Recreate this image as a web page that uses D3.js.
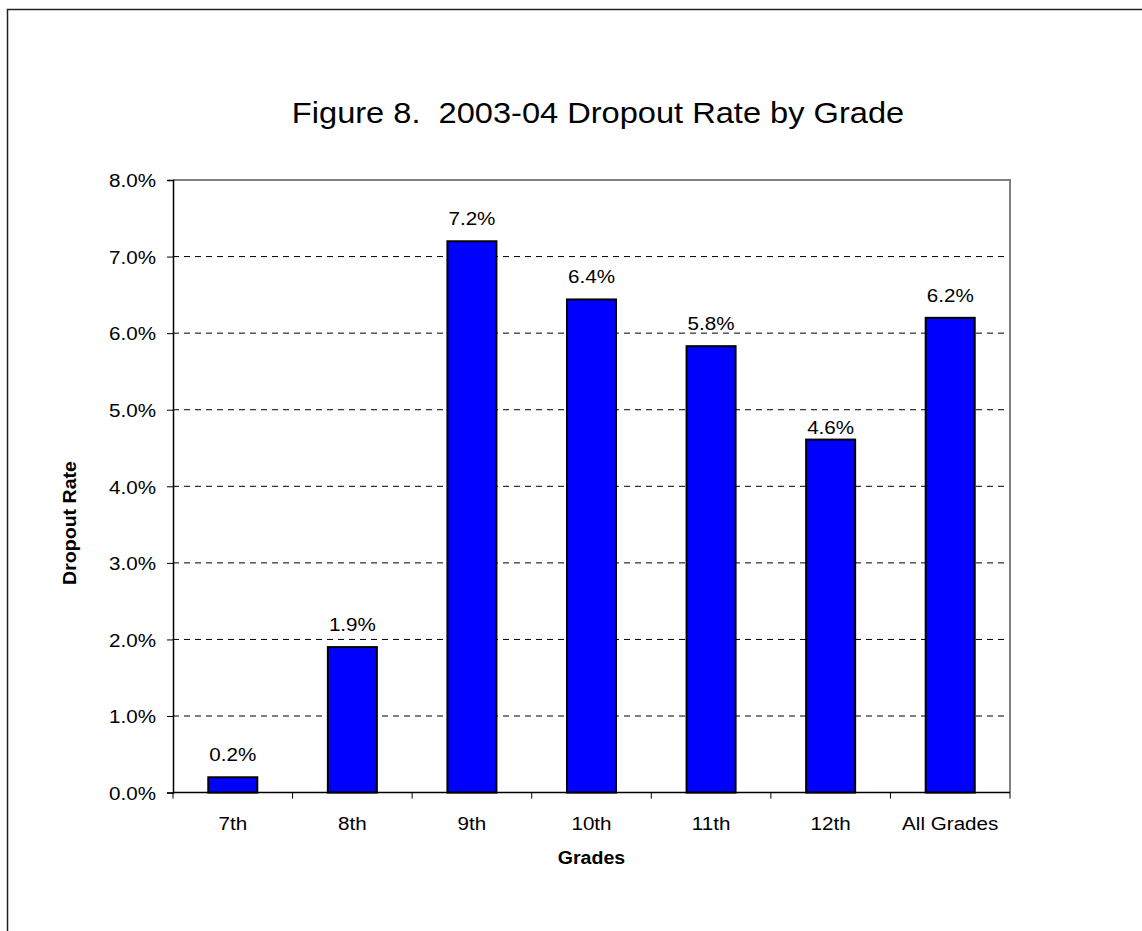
<!DOCTYPE html>
<html>
<head>
<meta charset="utf-8">
<script src="https://cdn.jsdelivr.net/npm/d3@7"></script>
<style>
  html, body { margin: 0; padding: 0; background: #fff; }
  svg { display: block; font-family: "Liberation Sans", Arial, sans-serif; }
  text { white-space: pre; fill: #000; }
</style>
</head>
<body>
<svg id="chart" width="1142" height="931"></svg>
<script>
// ---- data ----
const categories = ["7th", "8th", "9th", "10th", "11th", "12th", "All Grades"];
const dropoutRates = [0.0020, 0.0190, 0.0720, 0.0644, 0.0583, 0.0461, 0.0620];
const yTickValues = [0, 0.01, 0.02, 0.03, 0.04, 0.05, 0.06, 0.07, 0.08];
const titleText = "Figure 8.  2003-04 Dropout Rate by Grade";
const xAxisTitle = "Grades";
const yAxisTitle = "Dropout Rate";

// ---- layout ----
const svg = d3.select("#chart");
const plot = { left: 173, top: 180, right: 1010, bottom: 792.6 };
const SX = 1.085;   // horizontal text stretch for labels
const FS = 19;      // label font size

// outer frame (extends beyond the window on right/bottom)
svg.append("rect")
  .attr("x", 7.5).attr("y", 9.5)
  .attr("width", 1400).attr("height", 1200)
  .attr("fill", "none").attr("stroke", "#222").attr("stroke-width", 1.5);

const x = d3.scaleBand()
  .domain(categories)
  .range([plot.left, plot.right])
  .paddingInner(0.59).paddingOuter(0.295);
const xTicksScale = d3.scaleBand().domain(categories).range([plot.left, plot.right]).padding(0);
const y = d3.scaleLinear().domain([0, 0.08]).range([plot.bottom, plot.top]);

// gridlines (dashed)
svg.append("g").selectAll("line")
  .data(yTickValues.filter(v => v > 0 && v < 0.08))
  .join("line")
  .attr("x1", plot.left).attr("x2", plot.right)
  .attr("y1", d => y(d)).attr("y2", d => y(d))
  .attr("stroke", "#000").attr("stroke-width", 1)
  .attr("stroke-dasharray", "6,5");

// top and right plot border (gray)
svg.append("path")
  .attr("d", `M${plot.left},${y(0.08)}H${plot.right}V${plot.bottom}`)
  .attr("fill", "none").attr("stroke", "#808080").attr("stroke-width", 2);

// bars
svg.append("g").selectAll("rect")
  .data(categories.map((c, i) => ({ c, v: dropoutRates[i] })))
  .join("rect")
  .attr("x", d => x(d.c))
  .attr("y", d => y(d.v))
  .attr("width", x.bandwidth())
  .attr("height", d => y(0) - y(d.v))
  .attr("fill", "#0000ff")
  .attr("stroke", "#000").attr("stroke-width", 2);

// value labels
const fmt = d3.format(".1%");
const labelShift = { "12th": 10 };
svg.append("g").selectAll("text")
  .data(categories.map((c, i) => ({ c, v: dropoutRates[i] })))
  .join("text")
  .attr("transform", d => `translate(${x(d.c) + x.bandwidth() / 2},${y(d.v) - 16 + (labelShift[d.c] || 0)}) scale(${SX},1)`)
  .attr("text-anchor", "middle")
  .attr("font-size", FS)
  .text(d => fmt(d.v));

// y axis
const yAxis = d3.axisLeft(y).tickValues(yTickValues).tickSize(6).tickFormat(d3.format(".1%"));
const gy = svg.append("g").attr("transform", `translate(${plot.left},0)`).call(yAxis);
gy.select(".domain").attr("stroke", "#000").attr("stroke-width", 1.5);
gy.selectAll(".tick line").attr("stroke", "#000").attr("stroke-width", 1);
gy.selectAll(".tick text")
  .attr("x", null).attr("dy", null)
  .attr("font-size", FS)
  .attr("font-family", "Liberation Sans, Arial, sans-serif")
  .attr("fill", "#000")
  .attr("transform", `translate(-17,6.8) scale(${SX},1)`);

// x axis
svg.append("line")
  .attr("x1", plot.left).attr("x2", plot.right)
  .attr("y1", plot.bottom).attr("y2", plot.bottom)
  .attr("stroke", "#000").attr("stroke-width", 1.5);
const boundaries = categories.map(c => xTicksScale(c)).concat([plot.right]);
svg.append("g").selectAll("line")
  .data(boundaries)
  .join("line")
  .attr("x1", d => d).attr("x2", d => d)
  .attr("y1", plot.bottom).attr("y2", plot.bottom + 6)
  .attr("stroke", "#000").attr("stroke-width", 1);
svg.append("g").selectAll("text")
  .data(categories)
  .join("text")
  .attr("transform", d => `translate(${x(d) + x.bandwidth() / 2},830) scale(${SX},1)`)
  .attr("text-anchor", "middle")
  .attr("font-size", FS)
  .text(d => d);

// axis titles
svg.append("text")
  .attr("transform", `translate(${(plot.left + plot.right) / 2},864) scale(1.12,1)`)
  .attr("text-anchor", "middle")
  .attr("font-size", 17.5).attr("font-weight", "bold")
  .text(xAxisTitle);
svg.append("text")
  .attr("transform", `translate(76,523) rotate(-90) scale(1.12,1)`)
  .attr("text-anchor", "middle")
  .attr("font-size", 17.5).attr("font-weight", "bold")
  .text(yAxisTitle);

// title
svg.append("text")
  .attr("transform", `translate(598,122.5) scale(1.105,1)`)
  .attr("text-anchor", "middle")
  .attr("font-size", 29.5)
  .text(titleText);
</script>
</body>
</html>
